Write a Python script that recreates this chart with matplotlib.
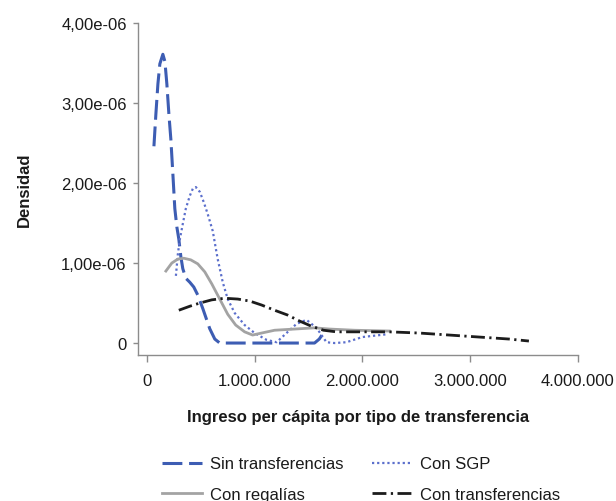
import matplotlib
matplotlib.use("Agg")
import matplotlib.pyplot as plt
from matplotlib import font_manager

# --- data (income per capita in pesos, density) ---
sin_x = [65000, 83000, 102000, 120000, 148000, 167000, 185000, 204000, 222000, 241000,
         259000, 278000, 296000, 315000, 333000, 361000, 398000, 435000, 472000, 519000,
         583000, 630000, 676000, 1000000, 1300000, 1556000, 1600000, 1650000]
sin_y = [2.46e-6, 2.86e-6, 3.24e-6, 3.49e-6, 3.61e-6, 3.52e-6, 3.24e-6, 2.86e-6, 2.55e-6, 2.11e-6,
         1.68e-6, 1.45e-6, 1.30e-6, 1.08e-6, 0.93e-6, 0.81e-6, 0.76e-6, 0.70e-6, 0.60e-6, 0.43e-6,
         0.18e-6, 0.05e-6, 0.0, 0.0, 0.0, 0.0, 0.05e-6, 0.15e-6]

sgp_x = [269000, 287000, 306000, 333000, 361000, 398000, 426000, 454000, 491000, 528000,
         565000, 611000, 657000, 704000, 750000, 815000, 907000, 1000000, 1110000, 1204000,
         1296000, 1389000, 1481000, 1574000, 1667000, 1740000, 1852000, 2000000, 2231000]
sgp_y = [0.84e-6, 1.11e-6, 1.30e-6, 1.49e-6, 1.68e-6, 1.84e-6, 1.93e-6, 1.95e-6, 1.89e-6, 1.76e-6,
         1.61e-6, 1.40e-6, 1.05e-6, 0.76e-6, 0.55e-6, 0.375e-6, 0.225e-6, 0.125e-6, 0.04e-6, 0.01e-6,
         0.125e-6, 0.24e-6, 0.29e-6, 0.19e-6, 0.01e-6, 0.0, 0.01e-6, 0.075e-6, 0.11e-6]

reg_x = [176000, 231000, 287000, 343000, 407000, 472000, 537000, 602000, 676000, 750000,
         824000, 907000, 981000, 1065000, 1185000, 1370000, 1556000, 1694000, 1926000, 2250000]
reg_y = [0.90e-6, 1.00e-6, 1.05e-6, 1.06e-6, 1.04e-6, 0.99e-6, 0.89e-6, 0.74e-6, 0.55e-6, 0.36e-6,
         0.225e-6, 0.14e-6, 0.10e-6, 0.125e-6, 0.16e-6, 0.175e-6, 0.19e-6, 0.175e-6, 0.16e-6, 0.15e-6]

tra_x = [296000, 398000, 491000, 602000, 722000, 843000, 954000, 1065000, 1185000, 1306000,
         1417000, 1528000, 1639000, 1759000, 1972000, 2250000, 2528000, 2806000, 3083000, 3361000,
         3546000]
tra_y = [0.41e-6, 0.46e-6, 0.50e-6, 0.54e-6, 0.56e-6, 0.55e-6, 0.525e-6, 0.475e-6, 0.41e-6, 0.35e-6,
         0.275e-6, 0.21e-6, 0.16e-6, 0.14e-6, 0.14e-6, 0.14e-6, 0.125e-6, 0.10e-6, 0.075e-6, 0.05e-6,
         0.025e-6]

labels = ["Sin transferencias", "Con SGP", "Con regalías", "Con transferencias"]

x_ticks = [0, 1000000, 2000000, 3000000, 4000000]
x_ticklabels = ["0", "1.000.000", "2.000.000", "3.000.000", "4.000.000"]
y_ticks = [0, 1e-6, 2e-6, 3e-6, 4e-6]
y_ticklabels = ["0", "1,00e-06", "2,00e-06", "3,00e-06", "4,00e-06"]

# --- font ---
available = {f.name for f in font_manager.fontManager.ttflist}
narrow = "Liberation Sans Narrow" in available
family = "Liberation Sans Narrow" if narrow else "Liberation Sans"
plt.rcParams["font.family"] = [family, "DejaVu Sans"]
fs = 14 if narrow else 12

fig = plt.figure(figsize=(6.16, 5.02), dpi=100)
ax = fig.add_axes([0.224, 0.2914, 0.714, 0.6606])

blue = "#3d5db3"
blue_light = "#5b6fcc"
grey = "#a3a3a3"
black = "#1c1c1c"

h1, = ax.plot(sin_x, sin_y, color=blue, lw=2.2, linestyle=(0, (6.5, 2.2)),
              dash_capstyle="butt")
h2, = ax.plot(sgp_x, sgp_y, color=blue_light, lw=1.6, linestyle=(0, (1, 1.3)))
h3, = ax.plot(reg_x, reg_y, color=grey, lw=2.0)
h4, = ax.plot(tra_x, tra_y, color=black, lw=2.0, linestyle=(0, (5, 1.6, 0.8, 1.6)),
              dash_capstyle="butt")

ax.set_xlim(-83000, 4000000)
ax.set_ylim(-0.146e-6, 4e-6)

ax.set_xticks(x_ticks)
ax.set_xticklabels(x_ticklabels)
ax.set_yticks(y_ticks)
ax.set_yticklabels(y_ticklabels)

for s in ["top", "right"]:
    ax.spines[s].set_visible(False)
for s in ["left", "bottom"]:
    ax.spines[s].set_color("#8c8c8c")
    ax.spines[s].set_linewidth(1.0)

ax.tick_params(axis="x", length=5, width=1.0, color="#8c8c8c", pad=8,
               labelsize=fs, labelcolor="#1a1a1a")
ax.tick_params(axis="y", length=3.6, width=1.0, color="#8c8c8c", pad=4.5,
               labelsize=fs, labelcolor="#1a1a1a")

ax.set_xlabel("Ingreso per cápita por tipo de transferencia", fontsize=fs,
              fontweight="bold", color="#1a1a1a", labelpad=15)
ax.set_ylabel("Densidad", fontsize=fs, fontweight="bold", color="#1a1a1a", labelpad=21)

# row-wise order: matplotlib fills legend columns first
leg = fig.legend([h1, h3, h2, h4], [labels[0], labels[2], labels[1], labels[3]],
                 ncol=2, frameon=False, loc="center", bbox_to_anchor=(0.586, 0.043),
                 fontsize=fs, handlelength=2.4, handletextpad=0.45,
                 columnspacing=1.75, labelspacing=0.95)
for t in leg.get_texts():
    t.set_color("#1a1a1a")

fig.savefig("out.png", dpi=100)
